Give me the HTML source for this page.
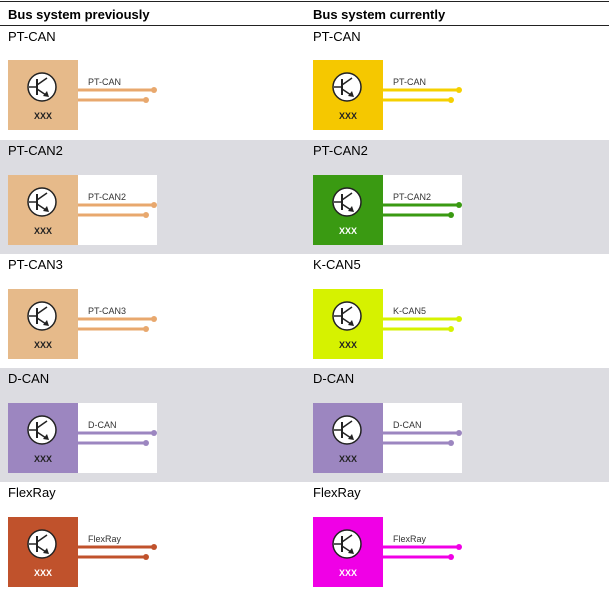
<!DOCTYPE html>
<html><head><style>
body{margin:0;background:#fff;}
svg{display:block;font-family:"Liberation Sans",sans-serif;}
</style></head><body>
<svg width="609" height="598" viewBox="0 0 609 598">
<rect x="0" y="140" width="609" height="114" fill="#dcdce1"/>
<rect x="0" y="368" width="609" height="114" fill="#dcdce1"/>
<line x1="0" y1="1.5" x2="609" y2="1.5" stroke="#222" stroke-width="1"/>
<line x1="0" y1="25.5" x2="609" y2="25.5" stroke="#222" stroke-width="1"/>
<text x="8" y="19" font-size="13" font-weight="bold" fill="#000">Bus system previously</text>
<text x="313" y="19" font-size="13" font-weight="bold" fill="#000">Bus system currently</text>
<defs>
<g id="tr">
<circle cx="0" cy="0" r="14" fill="#fff" stroke="#222" stroke-width="1.5"/>
<line x1="-5" y1="-8" x2="-5" y2="8" stroke="#222" stroke-width="2"/>
<line x1="-13" y1="0" x2="-5" y2="0" stroke="#222" stroke-width="1.5"/>
<line x1="-5" y1="-2" x2="5" y2="-9" stroke="#222" stroke-width="1.5"/>
<line x1="-5" y1="2" x2="4" y2="8" stroke="#222" stroke-width="1.5"/>
<polygon points="7,10 1,9 5,4" fill="#222"/>
</g>
</defs>
<!-- cells -->
<g font-size="13" fill="#000">
<text x="8" y="41">PT-CAN</text><text x="313" y="41">PT-CAN</text>
<text x="8" y="155">PT-CAN2</text><text x="313" y="155">PT-CAN2</text>
<text x="8" y="269">PT-CAN3</text><text x="313" y="269">K-CAN5</text>
<text x="8" y="383">D-CAN</text><text x="313" y="383">D-CAN</text>
<text x="8" y="497">FlexRay</text><text x="313" y="497">FlexRay</text>
</g>
<!-- generic cell template drawn manually -->
<!-- Row1 -->
<g transform="translate(8,60)">
<rect x="70" y="0" width="79" height="70" fill="#fff"/>
<rect width="70" height="70" fill="#e6ba8a"/>
<use href="#tr" x="34" y="27"/>
<text x="35" y="59" font-size="9" font-weight="bold" text-anchor="middle" fill="#222">XXX</text>
<text x="80" y="25" font-size="9" fill="#333">PT-CAN</text>
<line x1="70" y1="30" x2="146" y2="30" stroke="#e8a86e" stroke-width="3"/><circle cx="146" cy="30" r="3" fill="#e8a86e"/>
<line x1="70" y1="40" x2="138" y2="40" stroke="#e8a86e" stroke-width="3"/><circle cx="138" cy="40" r="3" fill="#e8a86e"/>
</g>
<g transform="translate(313,60)">
<rect x="70" y="0" width="79" height="70" fill="#fff"/>
<rect width="70" height="70" fill="#f5c800"/>
<use href="#tr" x="34" y="27"/>
<text x="35" y="59" font-size="9" font-weight="bold" text-anchor="middle" fill="#222">XXX</text>
<text x="80" y="25" font-size="9" fill="#333">PT-CAN</text>
<line x1="70" y1="30" x2="146" y2="30" stroke="#f5d000" stroke-width="3"/><circle cx="146" cy="30" r="3" fill="#f5d000"/>
<line x1="70" y1="40" x2="138" y2="40" stroke="#f5d000" stroke-width="3"/><circle cx="138" cy="40" r="3" fill="#f5d000"/>
</g>
<!-- Row2 -->
<g transform="translate(8,175)">
<rect x="70" y="0" width="79" height="70" fill="#fff"/>
<rect width="70" height="70" fill="#e6ba8a"/>
<use href="#tr" x="34" y="27"/>
<text x="35" y="59" font-size="9" font-weight="bold" text-anchor="middle" fill="#222">XXX</text>
<text x="80" y="25" font-size="9" fill="#333">PT-CAN2</text>
<line x1="70" y1="30" x2="146" y2="30" stroke="#e8a86e" stroke-width="3"/><circle cx="146" cy="30" r="3" fill="#e8a86e"/>
<line x1="70" y1="40" x2="138" y2="40" stroke="#e8a86e" stroke-width="3"/><circle cx="138" cy="40" r="3" fill="#e8a86e"/>
</g>
<g transform="translate(313,175)">
<rect x="70" y="0" width="79" height="70" fill="#fff"/>
<rect width="70" height="70" fill="#3a9a12"/>
<use href="#tr" x="34" y="27"/>
<text x="35" y="59" font-size="9" font-weight="bold" text-anchor="middle" fill="#fff">XXX</text>
<text x="80" y="25" font-size="9" fill="#333">PT-CAN2</text>
<line x1="70" y1="30" x2="146" y2="30" stroke="#3a9a12" stroke-width="3"/><circle cx="146" cy="30" r="3" fill="#3a9a12"/>
<line x1="70" y1="40" x2="138" y2="40" stroke="#3a9a12" stroke-width="3"/><circle cx="138" cy="40" r="3" fill="#3a9a12"/>
</g>
<!-- Row3 -->
<g transform="translate(8,289)">
<rect x="70" y="0" width="79" height="70" fill="#fff"/>
<rect width="70" height="70" fill="#e6ba8a"/>
<use href="#tr" x="34" y="27"/>
<text x="35" y="59" font-size="9" font-weight="bold" text-anchor="middle" fill="#222">XXX</text>
<text x="80" y="25" font-size="9" fill="#333">PT-CAN3</text>
<line x1="70" y1="30" x2="146" y2="30" stroke="#e8a86e" stroke-width="3"/><circle cx="146" cy="30" r="3" fill="#e8a86e"/>
<line x1="70" y1="40" x2="138" y2="40" stroke="#e8a86e" stroke-width="3"/><circle cx="138" cy="40" r="3" fill="#e8a86e"/>
</g>
<g transform="translate(313,289)">
<rect x="70" y="0" width="79" height="70" fill="#fff"/>
<rect width="70" height="70" fill="#d6f200"/>
<use href="#tr" x="34" y="27"/>
<text x="35" y="59" font-size="9" font-weight="bold" text-anchor="middle" fill="#222">XXX</text>
<text x="80" y="25" font-size="9" fill="#333">K-CAN5</text>
<line x1="70" y1="30" x2="146" y2="30" stroke="#d6f200" stroke-width="3"/><circle cx="146" cy="30" r="3" fill="#d6f200"/>
<line x1="70" y1="40" x2="138" y2="40" stroke="#d6f200" stroke-width="3"/><circle cx="138" cy="40" r="3" fill="#d6f200"/>
</g>
<!-- Row4 -->
<g transform="translate(8,403)">
<rect x="70" y="0" width="79" height="70" fill="#fff"/>
<rect width="70" height="70" fill="#9c86c0"/>
<use href="#tr" x="34" y="27"/>
<text x="35" y="59" font-size="9" font-weight="bold" text-anchor="middle" fill="#222">XXX</text>
<text x="80" y="25" font-size="9" fill="#333">D-CAN</text>
<line x1="70" y1="30" x2="146" y2="30" stroke="#9c86c0" stroke-width="3"/><circle cx="146" cy="30" r="3" fill="#9c86c0"/>
<line x1="70" y1="40" x2="138" y2="40" stroke="#9c86c0" stroke-width="3"/><circle cx="138" cy="40" r="3" fill="#9c86c0"/>
</g>
<g transform="translate(313,403)">
<rect x="70" y="0" width="79" height="70" fill="#fff"/>
<rect width="70" height="70" fill="#9c86c0"/>
<use href="#tr" x="34" y="27"/>
<text x="35" y="59" font-size="9" font-weight="bold" text-anchor="middle" fill="#222">XXX</text>
<text x="80" y="25" font-size="9" fill="#333">D-CAN</text>
<line x1="70" y1="30" x2="146" y2="30" stroke="#9c86c0" stroke-width="3"/><circle cx="146" cy="30" r="3" fill="#9c86c0"/>
<line x1="70" y1="40" x2="138" y2="40" stroke="#9c86c0" stroke-width="3"/><circle cx="138" cy="40" r="3" fill="#9c86c0"/>
</g>
<!-- Row5 -->
<g transform="translate(8,517)">
<rect x="70" y="0" width="79" height="70" fill="#fff"/>
<rect width="70" height="70" fill="#c0522c"/>
<use href="#tr" x="34" y="27"/>
<text x="35" y="59" font-size="9" font-weight="bold" text-anchor="middle" fill="#fff">XXX</text>
<text x="80" y="25" font-size="9" fill="#333">FlexRay</text>
<line x1="70" y1="30" x2="146" y2="30" stroke="#c0522c" stroke-width="3"/><circle cx="146" cy="30" r="3" fill="#c0522c"/>
<line x1="70" y1="40" x2="138" y2="40" stroke="#c0522c" stroke-width="3"/><circle cx="138" cy="40" r="3" fill="#c0522c"/>
</g>
<g transform="translate(313,517)">
<rect x="70" y="0" width="79" height="70" fill="#fff"/>
<rect width="70" height="70" fill="#f000e6"/>
<use href="#tr" x="34" y="27"/>
<text x="35" y="59" font-size="9" font-weight="bold" text-anchor="middle" fill="#fff">XXX</text>
<text x="80" y="25" font-size="9" fill="#333">FlexRay</text>
<line x1="70" y1="30" x2="146" y2="30" stroke="#f000e6" stroke-width="3"/><circle cx="146" cy="30" r="3" fill="#f000e6"/>
<line x1="70" y1="40" x2="138" y2="40" stroke="#f000e6" stroke-width="3"/><circle cx="138" cy="40" r="3" fill="#f000e6"/>
</g>
</svg>
</body></html>
